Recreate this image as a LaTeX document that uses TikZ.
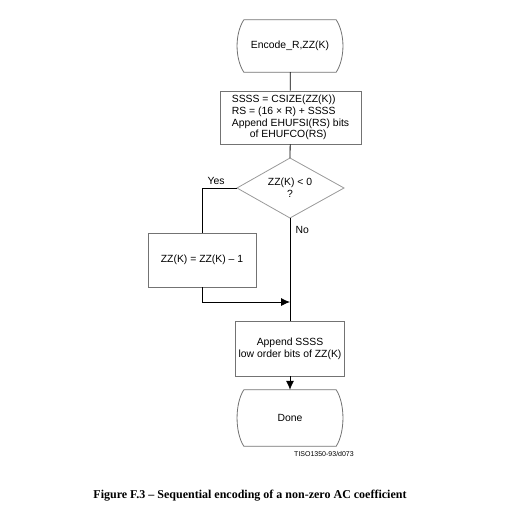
\documentclass[tikz,border=0pt]{standalone}
\usepackage{fontspec}
\setmainfont{Liberation Sans}
\newfontfamily\capfont{Liberation Serif}
\usetikzlibrary{arrows.meta}

% terminals: flat top and bottom, bowed sides
\newcommand\termshape[1]{%
  \draw[draw=black!55, line width=0.8pt]
    ([xshift=8pt]#1.north west) -- ([xshift=-8pt]#1.north east)
    .. controls +(9,14) and +(9,-14) .. ([xshift=-8pt]#1.south east)
    -- ([xshift=8pt]#1.south west)
    .. controls +(-9,-14) and +(-9,14) .. ([xshift=8pt]#1.north west);}

\begin{document}
\begin{tikzpicture}[
    x=1pt,y=-1pt,
    font=\fontsize{10.4}{11.7}\selectfont,
    block/.style={draw=black!55, line width=0.8pt, rectangle},
    flow/.style={line width=0.8pt},
    arrow/.style={flow, -{Latex[length=9pt,width=8pt]}},
    ]
    \useasboundingbox (0,0) rectangle (532,528);

    \node[minimum width=108pt, minimum height=52pt, inner sep=0pt] (start) at (290,46) {Encode\_R,ZZ(K)};
    \termshape{start}

    \node[block, minimum width=141pt, minimum height=53pt, align=left, inner sep=0pt] (size) at (290.5,117.5)
      {SSSS = CSIZE(ZZ(K))\\RS = (16 × R) + SSSS\\Append EHUFSI(RS) bits\\\hspace*{18pt}of EHUFCO(RS)};

    \draw[black!40, line width=0.8pt] (290,158) coordinate (dtop) -- (344,188) coordinate (dright)
      -- (290,218) coordinate (dbot) -- (237,188) coordinate (dleft) -- cycle;
    \node[align=center, inner sep=0pt] (neg) at (290,188) {ZZ(K) < 0\\?};

    \node[block, minimum width=108pt, minimum height=54pt] (fix) at (202,260) {ZZ(K) = ZZ(K) – 1};

    \node[block, minimum width=108pt, minimum height=55pt, align=center] (emit) at (290,348.5)
      {Append SSSS\\low order bits of ZZ(K)};

    \node[minimum width=108pt, minimum height=56pt, inner sep=0pt] (done) at (290,418) {Done};
    \termshape{done}

    \draw[flow] (start) -- (size);
    \draw[flow] (size) -- (dtop);
    \draw[flow] (dleft) -| node[pos=0.3, above] {Yes} (fix.north);
    \coordinate (join) at (290,302);
    \draw[arrow] (fix.south) |- (join);
    \draw[flow] (dbot) -- node[pos=0.12, right, xshift=2pt] {No} (emit.north);
    \draw[arrow] (emit) -- (done.north);

    \node[font=\fontsize{7}{8}\selectfont] (tag) at (324,454) {TISO1350-93/d073};
    \node[font=\capfont\bfseries\fontsize{12}{14}\selectfont] (cap) at (250,496)
      {Figure F.3 – Sequential encoding of a non-zero AC coefficient};
  \end{tikzpicture}
\end{document}
